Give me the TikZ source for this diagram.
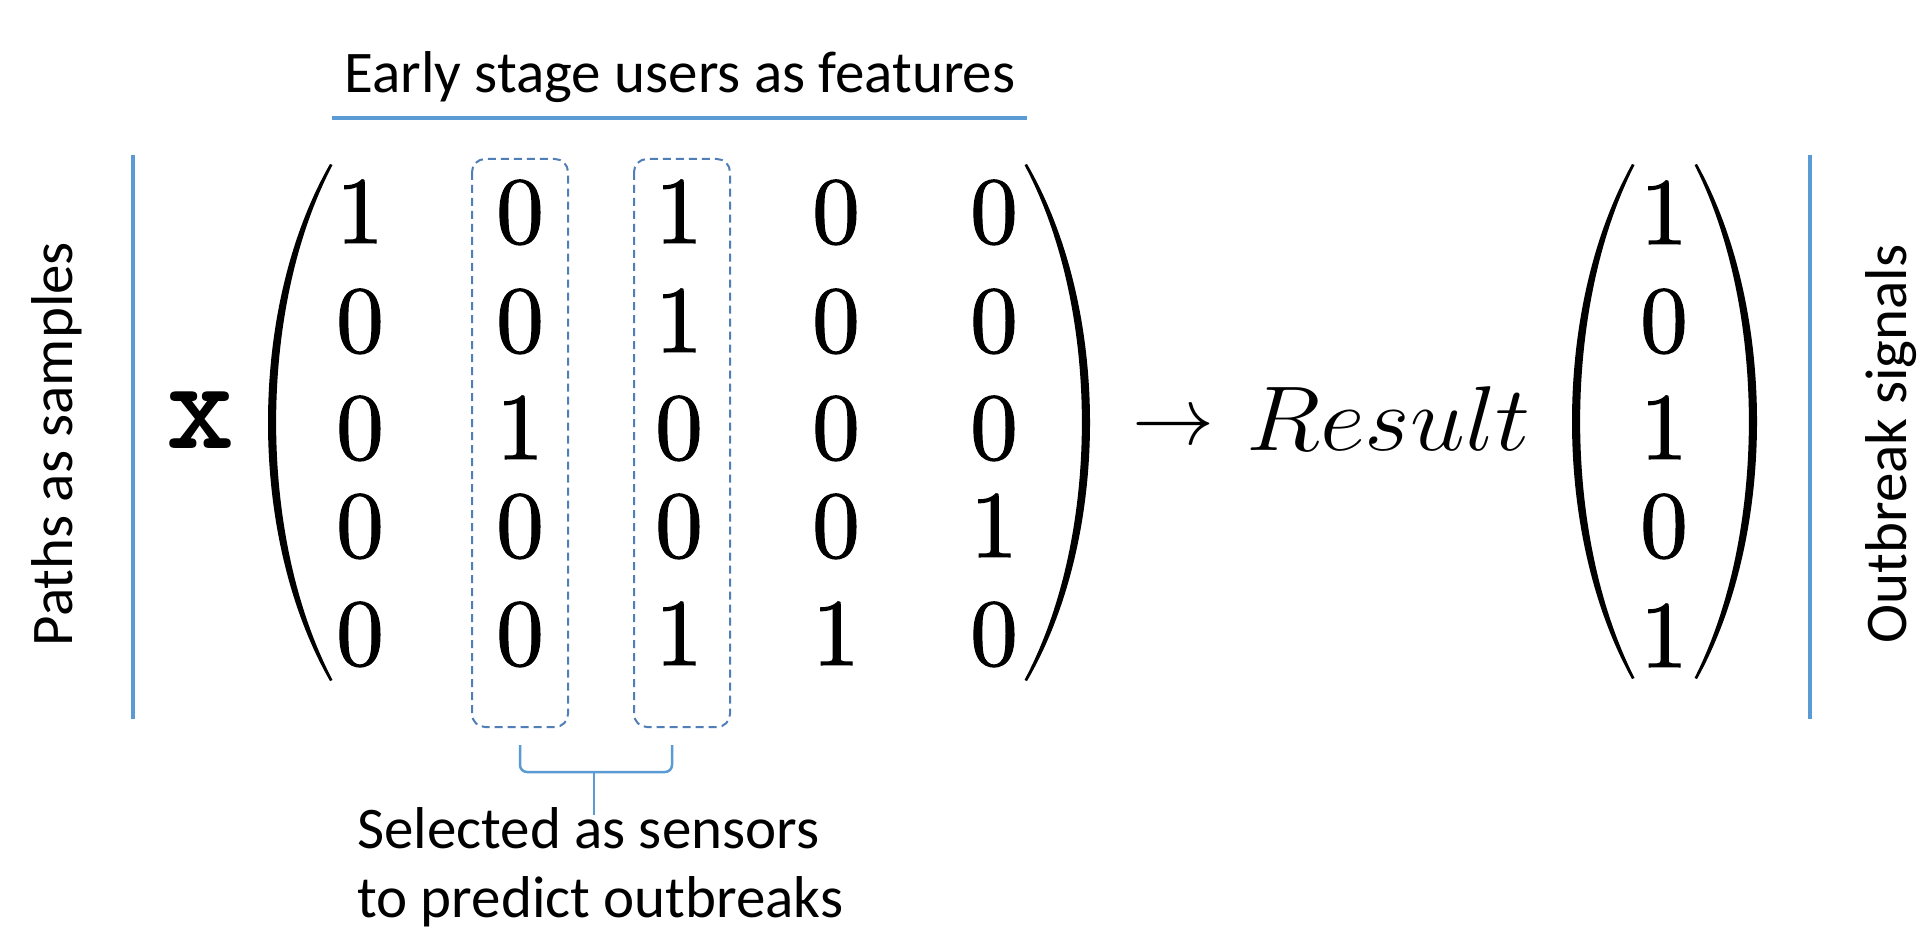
\RequirePackage{fix-cm}
\documentclass[tikz,border=0pt]{standalone}
\usepackage{fontspec}
\newfontfamily\lab{Carlito}
\newfontfamily\dig{lmroman10-regular.otf}[RawFeature={embolden=1.2}]
\definecolor{lineblue}{HTML}{5B9BD5}
\definecolor{boxblue}{HTML}{4F7FB6}
\newcommand\myLpar[4]{% x at ends, y top, y bottom, extreme x
  \pgfmathsetmacro\pcout{#1-(#1-#4)/0.75}%
  \pgfmathsetmacro\pcin{\pcout+10}%
  \pgfmathsetmacro\pya{#2+0.28*(#3-#2)}%
  \pgfmathsetmacro\pyb{#3-0.28*(#3-#2)}%
  \fill (#1,#2) .. controls (\pcout,\pya) and (\pcout,\pyb) .. (#1,#3)
     -- ({#1+2.5},{#3-1}) .. controls (\pcin,\pyb) and (\pcin,\pya) .. ({#1+2.5},{#2+1}) -- cycle;}
\newcommand\myRpar[4]{%
  \pgfmathsetmacro\pcout{#1+(#4-#1)/0.75}%
  \pgfmathsetmacro\pcin{\pcout-10}%
  \pgfmathsetmacro\pya{#2+0.28*(#3-#2)}%
  \pgfmathsetmacro\pyb{#3-0.28*(#3-#2)}%
  \fill (#1,#2) .. controls (\pcout,\pya) and (\pcout,\pyb) .. (#1,#3)
     -- ({#1-2.5},{#3-1}) .. controls (\pcin,\pyb) and (\pcin,\pya) .. ({#1-2.5},{#2+1}) -- cycle;}
\begin{document}
\begin{tikzpicture}[x=1pt,y=-1pt,
  lbl/.style={font=\lab\fontsize{59}{69}\selectfont, inner sep=0pt},
  digit/.style={font=\dig\fontsize{95}{95}\selectfont, inner sep=0pt, anchor=base},
  blueline/.style={draw=lineblue, line width=4pt},
  selbox/.style={draw=boxblue, line width=2pt, dash pattern=on 8pt off 5pt, rounded corners=13pt},
  bracketline/.style={draw=lineblue, line width=2.5pt, rounded corners=7pt}]
\useasboundingbox[fill=white] (0,0) rectangle (1920,928);

% title
\node[lbl, anchor=base] (title) at (680,93) {Early stage users as features};
\draw[blueline] (332,118) -- (1027,118);

% side labels and lines
\node[lbl, rotate=90, anchor=base] (paths) at (72,444) {Paths as samples};
\draw[blueline] (133,155) -- (133,719);
\draw[blueline] (1810,155) -- (1810,719);
\node[lbl, rotate=90, anchor=base] (signals) at (1906,444) {Outbreak signals};

% bold x
\node[font=\ttfamily\bfseries\fontsize{130}{130}\selectfont, inner sep=0pt] (X) at (201,420) {x};

% matrix parens
\myLpar{330}{164}{681}{268}
\myRpar{1027}{164}{681}{1090}

% matrix entries
\node[digit] (m11) at (360,243) {1};
\node[digit] (m12) at (520,243) {0};
\node[digit] (m13) at (679,243) {1};
\node[digit] (m14) at (836,243) {0};
\node[digit] (m15) at (994,243) {0};
\node[digit] (m21) at (360,352) {0};
\node[digit] (m22) at (520,352) {0};
\node[digit] (m23) at (679,352) {1};
\node[digit] (m24) at (836,352) {0};
\node[digit] (m25) at (994,352) {0};
\node[digit] (m31) at (360,459) {0};
\node[digit] (m32) at (520,459) {1};
\node[digit] (m33) at (679,459) {0};
\node[digit] (m34) at (836,459) {0};
\node[digit] (m35) at (994,459) {0};
\node[digit] (m41) at (360,557) {0};
\node[digit] (m42) at (520,557) {0};
\node[digit] (m43) at (679,557) {0};
\node[digit] (m44) at (836,557) {0};
\node[digit] (m45) at (994,557) {1};
\node[digit] (m51) at (360,665) {0};
\node[digit] (m52) at (520,665) {0};
\node[digit] (m53) at (679,665) {1};
\node[digit] (m54) at (836,665) {1};
\node[digit] (m55) at (994,665) {0};

% selection boxes
\draw[selbox] (472,159) rectangle (568,727);
\draw[selbox] (634,159) rectangle (730,727);

% bracket
\draw[bracketline] (520,745) -- (520,772) -- (672,772) -- (672,745);
\draw[draw=lineblue, line width=2.5pt] (594,772) -- (594,815);

% caption (anchor base = baseline of last line)
\node[lbl, anchor=base west, align=left] (sel) at (357,917) {Selected as sensors\\to predict outbreaks};

% arrow and result
\node[font=\fontsize{82}{82}\selectfont, inner sep=0pt, anchor=base] (arr) at (1173,444) {$\to$};
\node[font=\fontsize{92}{92}\selectfont, inner sep=0pt, anchor=base west] (res) at (1246,450) {\scalebox{1.07}[1]{$Result$}};

% vector
\myLpar{1632}{164}{679}{1572}
\myRpar{1697}{164}{679}{1757}
\node[digit] (v1) at (1664,244) {1};
\node[digit] (v2) at (1664,352) {0};
\node[digit] (v3) at (1664,459) {1};
\node[digit] (v4) at (1664,557) {0};
\node[digit] (v5) at (1664,667) {1};
\end{tikzpicture}
\end{document}
